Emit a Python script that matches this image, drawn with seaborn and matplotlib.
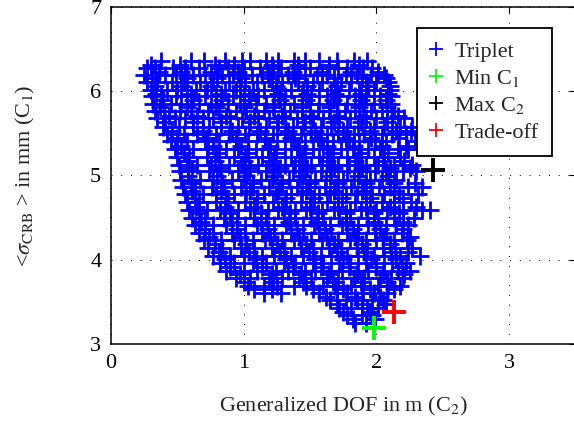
import matplotlib
matplotlib.use('Agg')
import matplotlib.pyplot as plt
from matplotlib.lines import Line2D
import seaborn as sns
import numpy as np
import pandas as pd

# y level of each row of triplet points and the x values found on that row
row_y = [6.36, 6.28, 6.19, 6.11, 6.02, 5.94, 5.85, 5.76, 5.68, 5.58, 5.49, 5.41,
         5.31, 5.22, 5.13, 5.05, 4.95, 4.86, 4.78, 4.68, 4.59, 4.50, 4.41, 4.32,
         4.23, 4.14, 4.05, 3.96, 3.87, 3.78, 3.69, 3.61, 3.52, 3.43, 3.34, 3.25]
row_x = [
    [0.38, 0.60, 0.70, 0.86, 0.99, 1.05, 1.17, 1.26, 1.38, 1.46, 1.57, 1.70, 1.83, 1.93],
    [0.27, 0.33, 0.47, 0.56, 0.66, 0.81, 0.88, 1.00, 1.12, 1.22, 1.28, 1.42, 1.50, 1.64, 1.71, 1.78, 1.90, 1.97],
    [0.25, 0.41, 0.49, 0.62, 0.71, 0.84, 0.92, 1.06, 1.14, 1.26, 1.33, 1.46, 1.55, 1.63, 1.77, 1.85, 1.96, 2.06],
    [0.27, 0.35, 0.46, 0.55, 0.67, 0.77, 0.89, 1.01, 1.10, 1.21, 1.29, 1.41, 1.52, 1.59, 1.73, 1.81, 1.92, 2.00, 2.09],
    [0.30, 0.42, 0.50, 0.64, 0.72, 0.86, 0.94, 1.07, 1.15, 1.28, 1.36, 1.45, 1.57, 1.66, 1.79, 1.87, 1.98, 2.10],
    [0.31, 0.38, 0.49, 0.57, 0.71, 0.79, 0.92, 1.00, 1.11, 1.23, 1.31, 1.44, 1.51, 1.63, 1.72, 1.84, 1.92, 2.03, 2.11],
    [0.32, 0.45, 0.53, 0.66, 0.75, 0.88, 0.97, 1.09, 1.17, 1.30, 1.38, 1.50, 1.57, 1.70, 1.78, 1.91, 1.98, 2.11],
    [0.33, 0.40, 0.52, 0.60, 0.73, 0.81, 0.94, 1.02, 1.15, 1.23, 1.35, 1.44, 1.56, 1.64, 1.76, 1.84, 1.96, 2.04, 2.13],
    [0.35, 0.48, 0.56, 0.69, 0.77, 0.90, 0.99, 1.11, 1.19, 1.31, 1.40, 1.52, 1.60, 1.72, 1.80, 1.92, 2.00, 2.12, 2.21],
    [0.39, 0.51, 0.62, 0.74, 0.83, 0.96, 1.04, 1.17, 1.25, 1.37, 1.45, 1.58, 1.66, 1.78, 1.86, 1.98, 2.06, 2.18, 2.27],
    [0.42, 0.55, 0.65, 0.79, 0.89, 1.01, 1.10, 1.22, 1.31, 1.43, 1.51, 1.63, 1.71, 1.83, 1.91, 2.04, 2.12, 2.22],
    [0.45, 0.57, 0.71, 0.81, 0.94, 1.03, 1.16, 1.25, 1.38, 1.46, 1.58, 1.67, 1.79, 1.87, 1.99, 2.07, 2.29],
    [0.48, 0.62, 0.73, 0.87, 0.96, 1.09, 1.18, 1.31, 1.40, 1.52, 1.60, 1.73, 1.82, 1.94, 2.03, 2.16, 2.24],
    [0.50, 0.59, 0.72, 0.81, 0.93, 1.01, 1.14, 1.23, 1.36, 1.44, 1.57, 1.65, 1.78, 1.86, 1.98, 2.06, 2.18],
    [0.51, 0.65, 0.75, 0.89, 0.98, 1.11, 1.19, 1.31, 1.39, 1.51, 1.59, 1.71, 1.79, 1.92, 2.01, 2.13, 2.27],
    [0.52, 0.61, 0.74, 0.83, 0.96, 1.04, 1.17, 1.25, 1.37, 1.46, 1.58, 1.66, 1.78, 1.87, 1.99, 2.07, 2.20, 2.30],
    [0.53, 0.67, 0.77, 0.91, 1.00, 1.13, 1.21, 1.34, 1.42, 1.54, 1.62, 1.75, 1.83, 1.95, 2.04, 2.15],
    [0.54, 0.63, 0.76, 0.85, 0.98, 1.07, 1.19, 1.28, 1.40, 1.49, 1.61, 1.69, 1.81, 1.90, 2.02, 2.10, 2.24, 2.34],
    [0.56, 0.69, 0.79, 0.93, 1.02, 1.15, 1.24, 1.36, 1.44, 1.57, 1.65, 1.77, 1.85, 1.97, 2.06, 2.17, 2.31],
    [0.57, 0.66, 0.79, 0.88, 1.01, 1.10, 1.22, 1.31, 1.43, 1.51, 1.63, 1.71, 1.84, 1.92, 2.04, 2.13, 2.26],
    [0.59, 0.72, 0.82, 0.96, 1.05, 1.18, 1.26, 1.39, 1.47, 1.59, 1.68, 1.80, 1.88, 2.00, 2.08, 2.20, 2.34, 2.40],
    [0.61, 0.71, 0.85, 0.95, 1.08, 1.17, 1.30, 1.39, 1.51, 1.60, 1.72, 1.80, 1.93, 2.01, 2.13, 2.28],
    [0.63, 0.77, 0.87, 1.01, 1.10, 1.23, 1.32, 1.45, 1.53, 1.65, 1.74, 1.86, 1.94, 2.07, 2.15, 2.24],
    [0.66, 0.77, 0.91, 1.01, 1.14, 1.23, 1.36, 1.45, 1.57, 1.66, 1.78, 1.86, 1.99, 2.07, 2.19],
    [0.70, 0.83, 0.93, 1.07, 1.16, 1.29, 1.38, 1.51, 1.59, 1.71, 1.80, 1.92, 2.00, 2.13, 2.23],
    [0.73, 0.84, 0.98, 1.08, 1.21, 1.30, 1.43, 1.52, 1.64, 1.73, 1.85, 1.93, 2.05, 2.14, 2.27],
    [0.77, 0.90, 1.00, 1.14, 1.23, 1.36, 1.45, 1.58, 1.66, 1.78, 1.86, 1.98, 2.06, 2.18, 2.33],
    [0.82, 0.93, 1.07, 1.17, 1.30, 1.39, 1.52, 1.60, 1.72, 1.80, 1.92, 2.00, 2.12, 2.22],
    [0.87, 1.00, 1.10, 1.24, 1.33, 1.46, 1.54, 1.66, 1.74, 1.86, 1.94, 2.06, 2.16, 2.25],
    [0.94, 1.05, 1.19, 1.29, 1.42, 1.51, 1.63, 1.71, 1.83, 1.91, 2.03, 2.11, 2.20],
    [1.03, 1.15, 1.25, 1.38, 1.47, 1.60, 1.69, 1.81, 1.89, 2.01, 2.09, 2.18],
    [1.15, 1.28, 1.57, 1.70, 1.78, 1.90, 1.98, 2.08],
    [1.65, 1.77, 1.85, 1.97, 2.05],
    [1.72, 1.81, 1.93, 2.01],
    [1.78, 1.89, 1.97],
    [1.84, 1.92],
]

# second, sparser set of rows lying between the first ones
row_y_b = [6.31, 6.23, 6.16, 6.06, 5.97, 5.89, 5.81, 5.71, 5.64, 5.53, 5.45, 5.35,
           5.27, 5.17, 5.09, 4.99, 4.91, 4.81, 4.73, 4.63, 4.55, 4.45, 4.37, 4.27,
           4.19, 4.09, 4.01, 3.91, 3.83, 3.73, 3.65, 3.56, 3.48, 3.38, 3.30]
row_x_b = [
    [0.30, 0.52, 0.78, 0.93, 1.21, 1.41, 1.64, 1.87],
    [0.36, 0.53, 0.75, 0.96, 1.18, 1.37, 1.59, 1.81, 2.01],
    [0.31, 0.57, 0.80, 0.98, 1.19, 1.39, 1.68, 1.89, 2.07],
    [0.33, 0.53, 0.75, 0.97, 1.24, 1.48, 1.70, 1.94, 2.10],
    [0.34, 0.60, 0.83, 1.04, 1.26, 1.48, 1.69, 1.88, 2.09],
    [0.39, 0.62, 0.84, 1.05, 1.27, 1.47, 1.67, 1.88, 2.07],
    [0.37, 0.57, 0.79, 1.00, 1.22, 1.44, 1.65, 1.87, 2.08],
    [0.44, 0.65, 0.87, 1.08, 1.29, 1.50, 1.70, 1.90, 2.16],
    [0.41, 0.62, 0.83, 1.05, 1.26, 1.46, 1.68, 1.88, 2.08],
    [0.46, 0.69, 0.91, 1.12, 1.33, 1.54, 1.75, 1.95, 2.15, 2.26],
    [0.50, 0.72, 0.94, 1.16, 1.36, 1.56, 1.77, 1.96, 2.17],
    [0.53, 0.77, 0.98, 1.20, 1.42, 1.63, 1.83, 2.04, 2.22],
    [0.55, 0.79, 1.03, 1.24, 1.46, 1.67, 1.88, 2.09],
    [0.57, 0.78, 1.00, 1.21, 1.42, 1.63, 1.84, 2.05, 2.21],
    [0.58, 0.82, 1.05, 1.27, 1.48, 1.68, 1.89, 2.10, 2.25],
    [0.58, 0.80, 1.02, 1.23, 1.44, 1.65, 1.86, 2.09],
    [0.60, 0.84, 1.07, 1.29, 1.50, 1.71, 1.92, 2.13, 2.29],
    [0.61, 0.83, 1.05, 1.26, 1.47, 1.68, 1.89, 2.13],
    [0.63, 0.87, 1.10, 1.32, 1.53, 1.74, 1.95, 2.20],
    [0.64, 0.86, 1.08, 1.29, 1.50, 1.71, 1.92, 2.10, 2.30],
    [0.66, 0.90, 1.13, 1.35, 1.56, 1.77, 1.98, 2.17],
    [0.68, 0.91, 1.13, 1.34, 1.55, 1.77, 1.98, 2.20],
    [0.71, 0.95, 1.18, 1.40, 1.61, 1.82, 2.03, 2.20],
    [0.74, 0.97, 1.20, 1.42, 1.63, 1.84, 2.05, 2.25],
    [0.78, 1.02, 1.25, 1.47, 1.68, 1.89, 2.10],
    [0.81, 1.04, 1.27, 1.49, 1.70, 1.91, 2.11, 2.24],
    [0.86, 1.09, 1.32, 1.54, 1.75, 1.96, 2.15],
    [0.90, 1.14, 1.37, 1.58, 1.79, 2.00, 2.19],
    [0.97, 1.21, 1.43, 1.64, 1.85, 2.05, 2.21],
    [1.00, 1.22, 1.45, 1.67, 1.88, 2.08],
    [1.08, 1.21, 1.52, 1.75, 1.95, 2.13],
    [1.62, 1.84, 2.03],
    [1.70, 1.89, 2.07],
    [1.75, 1.95],
    [1.82, 1.99],
]

# the three highlighted solutions
special_names = ['Min C$_1$', 'Max C$_2$', 'Trade-off']
special_x = [1.98, 2.43, 2.13]
special_y = [3.19, 5.06, 3.38]
special_colors = [(0, 1, 0), (0, 0, 0), (1, 0, 0)]

sns.set_style('white')
plt.rcParams['font.family'] = ['Liberation Serif', 'DejaVu Serif']
plt.rcParams['mathtext.fontset'] = 'stix'

all_y = row_y + row_y_b
all_x = row_x + row_x_b
df = pd.DataFrame({
    'x': [v for xs in all_x for v in xs],
    'y': [yy for yy, xs in zip(all_y, all_x) for _ in xs],
})

fig = plt.figure(figsize=(5.74, 4.23), dpi=100)
ax = fig.add_axes([0.1934, 0.1868, 0.8092, 0.7967])

sns.scatterplot(data=df, x='x', y='y', marker='+', s=170, linewidth=2.0,
                color=(0, 0, 1), ax=ax, legend=False)
for name, sx, sy, c in zip(special_names, special_x, special_y, special_colors):
    sns.scatterplot(x=[sx], y=[sy], marker='+', s=300, linewidth=2.8,
                    color=c, ax=ax, legend=False, zorder=4)

ax.set_xlim(0, 3.5)
ax.set_ylim(3, 7)
ax.set_xticks([0, 1, 2, 3])
ax.set_yticks([3, 4, 5, 6, 7])
ax.grid(True, color='black', linewidth=0.7, linestyle=(0, (1, 9)))
ax.tick_params(direction='in', top=True, right=True, length=4, width=0.8,
               labelsize=16, pad=7, colors='black')
for sp in ax.spines.values():
    sp.set_color('black')
    sp.set_linewidth(1.1)

ax.set_xlabel('Generalized DOF in m (C$_2$)', fontsize=16, labelpad=16)
ax.set_ylabel(r'<$\sigma_{\mathrm{CRB}}$ > in mm (C$_1$)', fontsize=16, labelpad=38)

handles = [Line2D([], [], marker='+', linestyle='none', color=(0, 0, 1),
                  markersize=10, markeredgewidth=1.3)]
handles += [Line2D([], [], marker='+', linestyle='none', color=c,
                   markersize=10, markeredgewidth=1.3) for c in special_colors]
leg = ax.legend(handles, ['Triplet'] + special_names, loc='upper right',
                bbox_to_anchor=(0.949, 0.938), borderaxespad=0, fontsize=16,
                frameon=True, fancybox=False, framealpha=1, edgecolor='black',
                handlelength=0.55, handletextpad=0.55, labelspacing=0.28,
                borderpad=0.6)
leg.get_frame().set_linewidth(1.3)

fig.savefig('out.png', dpi=100)
